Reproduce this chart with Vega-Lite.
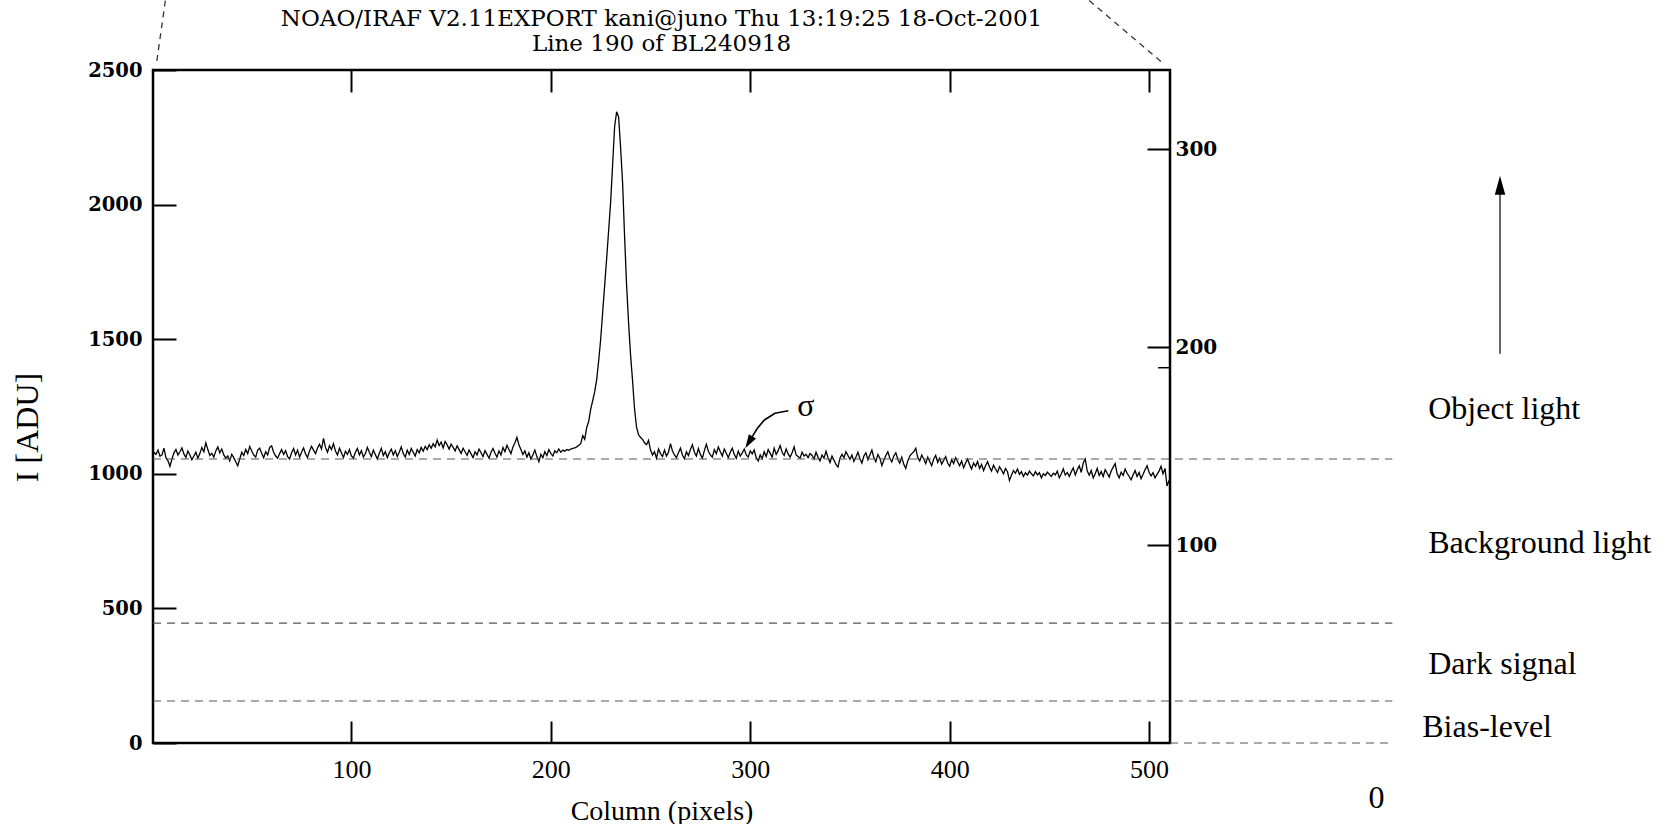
{
  "$schema": "https://vega.github.io/schema/vega-lite/v6.json",
  "width": 1017,
  "height": 673,
  "autosize": {"type": "none"},
  "padding": {"left": 153, "top": 70, "right": 503, "bottom": 81},
  "background": "white",
  "config": {
    "view": {"stroke": "black", "strokeWidth": 2.5},
    "axis": {"grid": false, "domain": false, "tickColor": "black", "tickWidth": 2, "labelColor": "black", "titleColor": "black"}
  },
  "title": {
    "text": ["NOAO/IRAF V2.11EXPORT kani@juno Thu 13:19:25 18-Oct-2001", "Line 190 of BL240918"],
    "font": "DejaVu Serif",
    "fontSize": 23,
    "fontWeight": "normal",
    "lineHeight": 25,
    "anchor": "middle",
    "baseline": "bottom",
    "offset": -79,
    "color": "black"
  },
  "datasets": {
    "profile": [
      {"x":1,"y":1080},{"x":2,"y":1072},{"x":3,"y":1088},{"x":4,"y":1065},{"x":5,"y":1070},{"x":6,"y":1095},{"x":7,"y":1060},{"x":8,"y":1048},{"x":9,"y":1028},{"x":10,"y":1055},
      {"x":11,"y":1078},{"x":12,"y":1090},{"x":13,"y":1070},{"x":14,"y":1082},{"x":15,"y":1096},{"x":16,"y":1074},{"x":17,"y":1060},{"x":18,"y":1085},{"x":19,"y":1070},{"x":20,"y":1052},
      {"x":21,"y":1066},{"x":22,"y":1080},{"x":23,"y":1058},{"x":24,"y":1075},{"x":25,"y":1098},{"x":26,"y":1082},{"x":27,"y":1115},{"x":28,"y":1090},{"x":29,"y":1068},{"x":30,"y":1076},
      {"x":31,"y":1062},{"x":32,"y":1085},{"x":33,"y":1100},{"x":34,"y":1078},{"x":35,"y":1092},{"x":36,"y":1070},{"x":37,"y":1058},{"x":38,"y":1066},{"x":39,"y":1048},{"x":40,"y":1072},
      {"x":41,"y":1060},{"x":42,"y":1045},{"x":43,"y":1030},{"x":44,"y":1055},{"x":45,"y":1080},{"x":46,"y":1068},{"x":47,"y":1090},{"x":48,"y":1075},{"x":49,"y":1102},{"x":50,"y":1085},
      {"x":51,"y":1070},{"x":52,"y":1062},{"x":53,"y":1088},{"x":54,"y":1095},{"x":55,"y":1076},{"x":56,"y":1060},{"x":57,"y":1082},{"x":58,"y":1070},{"x":59,"y":1098},{"x":60,"y":1104},
      {"x":61,"y":1080},{"x":62,"y":1066},{"x":63,"y":1058},{"x":64,"y":1075},{"x":65,"y":1090},{"x":66,"y":1072},{"x":67,"y":1086},{"x":68,"y":1064},{"x":69,"y":1055},{"x":70,"y":1078},
      {"x":71,"y":1094},{"x":72,"y":1070},{"x":73,"y":1088},{"x":74,"y":1062},{"x":75,"y":1080},{"x":76,"y":1096},{"x":77,"y":1074},{"x":78,"y":1060},{"x":79,"y":1085},{"x":80,"y":1102},
      {"x":81,"y":1088},{"x":82,"y":1075},{"x":83,"y":1096},{"x":84,"y":1110},{"x":85,"y":1092},{"x":86,"y":1132},{"x":87,"y":1098},{"x":88,"y":1080},{"x":89,"y":1104},{"x":90,"y":1090},
      {"x":91,"y":1112},{"x":92,"y":1085},{"x":93,"y":1070},{"x":94,"y":1095},{"x":95,"y":1078},{"x":96,"y":1060},{"x":97,"y":1084},{"x":98,"y":1072},{"x":99,"y":1090},{"x":100,"y":1066},
      {"x":101,"y":1058},{"x":102,"y":1080},{"x":103,"y":1094},{"x":104,"y":1070},{"x":105,"y":1086},{"x":106,"y":1062},{"x":107,"y":1075},{"x":108,"y":1098},{"x":109,"y":1080},{"x":110,"y":1064},
      {"x":111,"y":1088},{"x":112,"y":1072},{"x":113,"y":1055},{"x":114,"y":1076},{"x":115,"y":1095},{"x":116,"y":1068},{"x":117,"y":1082},{"x":118,"y":1060},{"x":119,"y":1078},{"x":120,"y":1092},
      {"x":121,"y":1070},{"x":122,"y":1086},{"x":123,"y":1064},{"x":124,"y":1080},{"x":125,"y":1100},{"x":126,"y":1075},{"x":127,"y":1062},{"x":128,"y":1088},{"x":129,"y":1072},{"x":130,"y":1094},
      {"x":131,"y":1080},{"x":132,"y":1066},{"x":133,"y":1090},{"x":134,"y":1078},{"x":135,"y":1098},{"x":136,"y":1084},{"x":137,"y":1102},{"x":138,"y":1090},{"x":139,"y":1108},{"x":140,"y":1095},
      {"x":141,"y":1112},{"x":142,"y":1100},{"x":143,"y":1125},{"x":144,"y":1105},{"x":145,"y":1118},{"x":146,"y":1096},{"x":147,"y":1120},{"x":148,"y":1108},{"x":149,"y":1092},{"x":150,"y":1110},
      {"x":151,"y":1098},{"x":152,"y":1085},{"x":153,"y":1104},{"x":154,"y":1090},{"x":155,"y":1076},{"x":156,"y":1095},{"x":157,"y":1082},{"x":158,"y":1068},{"x":159,"y":1088},{"x":160,"y":1074},
      {"x":161,"y":1060},{"x":162,"y":1082},{"x":163,"y":1070},{"x":164,"y":1092},{"x":165,"y":1078},{"x":166,"y":1064},{"x":167,"y":1086},{"x":168,"y":1072},{"x":169,"y":1058},{"x":170,"y":1080},
      {"x":171,"y":1094},{"x":172,"y":1076},{"x":173,"y":1062},{"x":174,"y":1085},{"x":175,"y":1070},{"x":176,"y":1098},{"x":177,"y":1082},{"x":178,"y":1106},{"x":179,"y":1090},{"x":180,"y":1075},
      {"x":181,"y":1100},{"x":182,"y":1115},{"x":183,"y":1135},{"x":184,"y":1108},{"x":185,"y":1090},{"x":186,"y":1072},{"x":187,"y":1085},{"x":188,"y":1062},{"x":189,"y":1078},{"x":190,"y":1055},
      {"x":191,"y":1070},{"x":192,"y":1088},{"x":193,"y":1064},{"x":194,"y":1045},{"x":195,"y":1072},{"x":196,"y":1060},{"x":197,"y":1082},{"x":198,"y":1068},{"x":199,"y":1090},{"x":200,"y":1076},
      {"x":201,"y":1066},{"x":202,"y":1085},{"x":203,"y":1078},{"x":204,"y":1092},{"x":205,"y":1080},{"x":206,"y":1088},{"x":207,"y":1084},{"x":208,"y":1090},{"x":209,"y":1087},{"x":210,"y":1092},
      {"x":211,"y":1094},{"x":212,"y":1096},{"x":213,"y":1100},{"x":214,"y":1106},{"x":215,"y":1112},{"x":216,"y":1142},{"x":217,"y":1128},{"x":218,"y":1172},{"x":219,"y":1195},{"x":220,"y":1240},
      {"x":221,"y":1272},{"x":222,"y":1305},{"x":223,"y":1350},{"x":224,"y":1420},{"x":225,"y":1500},{"x":226,"y":1600},{"x":227,"y":1700},{"x":228,"y":1800},{"x":229,"y":1905},{"x":230,"y":2010},
      {"x":231,"y":2150},{"x":232,"y":2290},{"x":233,"y":2345},{"x":234,"y":2325},{"x":235,"y":2210},{"x":236,"y":2080},{"x":237,"y":1880},{"x":238,"y":1700},{"x":239,"y":1560},{"x":240,"y":1440},
      {"x":241,"y":1345},{"x":242,"y":1240},{"x":243,"y":1172},{"x":244,"y":1145},{"x":245,"y":1135},{"x":246,"y":1128},{"x":247,"y":1115},{"x":248,"y":1108},{"x":249,"y":1124},{"x":250,"y":1088},
      {"x":251,"y":1070},{"x":252,"y":1082},{"x":253,"y":1058},{"x":254,"y":1092},{"x":255,"y":1075},{"x":256,"y":1064},{"x":257,"y":1088},{"x":258,"y":1066},{"x":259,"y":1080},{"x":260,"y":1112},
      {"x":261,"y":1085},{"x":262,"y":1070},{"x":263,"y":1060},{"x":264,"y":1078},{"x":265,"y":1095},{"x":266,"y":1070},{"x":267,"y":1056},{"x":268,"y":1082},{"x":269,"y":1068},{"x":270,"y":1090},
      {"x":271,"y":1108},{"x":272,"y":1080},{"x":273,"y":1066},{"x":274,"y":1094},{"x":275,"y":1072},{"x":276,"y":1058},{"x":277,"y":1086},{"x":278,"y":1110},{"x":279,"y":1084},{"x":280,"y":1070},
      {"x":281,"y":1062},{"x":282,"y":1090},{"x":283,"y":1075},{"x":284,"y":1100},{"x":285,"y":1082},{"x":286,"y":1066},{"x":287,"y":1092},{"x":288,"y":1076},{"x":289,"y":1060},{"x":290,"y":1080},
      {"x":291,"y":1095},{"x":292,"y":1072},{"x":293,"y":1058},{"x":294,"y":1084},{"x":295,"y":1066},{"x":296,"y":1078},{"x":297,"y":1092},{"x":298,"y":1070},{"x":299,"y":1062},{"x":300,"y":1085},
      {"x":301,"y":1074},{"x":302,"y":1088},{"x":303,"y":1060},{"x":304,"y":1048},{"x":305,"y":1070},{"x":306,"y":1056},{"x":307,"y":1082},{"x":308,"y":1064},{"x":309,"y":1090},{"x":310,"y":1076},
      {"x":311,"y":1062},{"x":312,"y":1095},{"x":313,"y":1072},{"x":314,"y":1086},{"x":315,"y":1105},{"x":316,"y":1080},{"x":317,"y":1068},{"x":318,"y":1092},{"x":319,"y":1074},{"x":320,"y":1062},
      {"x":321,"y":1078},{"x":322,"y":1100},{"x":323,"y":1070},{"x":324,"y":1064},{"x":325,"y":1058},{"x":326,"y":1080},{"x":327,"y":1066},{"x":328,"y":1072},{"x":329,"y":1060},{"x":330,"y":1075},
      {"x":331,"y":1068},{"x":332,"y":1055},{"x":333,"y":1080},{"x":334,"y":1062},{"x":335,"y":1048},{"x":336,"y":1070},{"x":337,"y":1058},{"x":338,"y":1084},{"x":339,"y":1060},{"x":340,"y":1042},
      {"x":341,"y":1066},{"x":342,"y":1050},{"x":343,"y":1035},{"x":344,"y":1025},{"x":345,"y":1058},{"x":346,"y":1072},{"x":347,"y":1060},{"x":348,"y":1082},{"x":349,"y":1068},{"x":350,"y":1054},
      {"x":351,"y":1070},{"x":352,"y":1046},{"x":353,"y":1062},{"x":354,"y":1080},{"x":355,"y":1056},{"x":356,"y":1040},{"x":357,"y":1066},{"x":358,"y":1078},{"x":359,"y":1052},{"x":360,"y":1070},
      {"x":361,"y":1088},{"x":362,"y":1060},{"x":363,"y":1045},{"x":364,"y":1072},{"x":365,"y":1058},{"x":366,"y":1030},{"x":367,"y":1050},{"x":368,"y":1068},{"x":369,"y":1082},{"x":370,"y":1058},
      {"x":371,"y":1044},{"x":372,"y":1066},{"x":373,"y":1078},{"x":374,"y":1054},{"x":375,"y":1040},{"x":376,"y":1062},{"x":377,"y":1035},{"x":378,"y":1020},{"x":379,"y":1048},{"x":380,"y":1066},
      {"x":381,"y":1075},{"x":382,"y":1082},{"x":383,"y":1095},{"x":384,"y":1060},{"x":385,"y":1048},{"x":386,"y":1070},{"x":387,"y":1055},{"x":388,"y":1038},{"x":389,"y":1062},{"x":390,"y":1046},
      {"x":391,"y":1030},{"x":392,"y":1055},{"x":393,"y":1068},{"x":394,"y":1042},{"x":395,"y":1058},{"x":396,"y":1036},{"x":397,"y":1050},{"x":398,"y":1064},{"x":399,"y":1040},{"x":400,"y":1028},
      {"x":401,"y":1052},{"x":402,"y":1038},{"x":403,"y":1060},{"x":404,"y":1045},{"x":405,"y":1030},{"x":406,"y":1048},{"x":407,"y":1022},{"x":408,"y":1040},{"x":409,"y":1055},{"x":410,"y":1034},
      {"x":411,"y":1018},{"x":412,"y":1040},{"x":413,"y":1028},{"x":414,"y":1046},{"x":415,"y":1020},{"x":416,"y":1035},{"x":417,"y":1012},{"x":418,"y":1030},{"x":419,"y":1045},{"x":420,"y":1025},
      {"x":421,"y":1010},{"x":422,"y":1032},{"x":423,"y":1018},{"x":424,"y":1005},{"x":425,"y":1026},{"x":426,"y":1014},{"x":427,"y":1000},{"x":428,"y":1020},{"x":429,"y":1008},{"x":430,"y":975},
      {"x":431,"y":995},{"x":432,"y":1012},{"x":433,"y":1002},{"x":434,"y":1018},{"x":435,"y":998},{"x":436,"y":1008},{"x":437,"y":990},{"x":438,"y":1004},{"x":439,"y":995},{"x":440,"y":1010},
      {"x":441,"y":1000},{"x":442,"y":992},{"x":443,"y":1008},{"x":444,"y":996},{"x":445,"y":1004},{"x":446,"y":985},{"x":447,"y":1000},{"x":448,"y":994},{"x":449,"y":1006},{"x":450,"y":998},
      {"x":451,"y":990},{"x":452,"y":1002},{"x":453,"y":996},{"x":454,"y":1010},{"x":455,"y":985},{"x":456,"y":1000},{"x":457,"y":1018},{"x":458,"y":995},{"x":459,"y":1005},{"x":460,"y":990},
      {"x":461,"y":1008},{"x":462,"y":1022},{"x":463,"y":996},{"x":464,"y":1015},{"x":465,"y":1030},{"x":466,"y":1005},{"x":467,"y":1040},{"x":468,"y":1055},{"x":469,"y":1010},{"x":470,"y":995},
      {"x":471,"y":1012},{"x":472,"y":985},{"x":473,"y":1000},{"x":474,"y":1020},{"x":475,"y":994},{"x":476,"y":1008},{"x":477,"y":990},{"x":478,"y":1015},{"x":479,"y":1002},{"x":480,"y":988},
      {"x":481,"y":1010},{"x":482,"y":1025},{"x":483,"y":1038},{"x":484,"y":1000},{"x":485,"y":985},{"x":486,"y":1006},{"x":487,"y":994},{"x":488,"y":1018},{"x":489,"y":1002},{"x":490,"y":990},
      {"x":491,"y":978},{"x":492,"y":996},{"x":493,"y":1012},{"x":494,"y":990},{"x":495,"y":1005},{"x":496,"y":982},{"x":497,"y":998},{"x":498,"y":1015},{"x":499,"y":1030},{"x":500,"y":1006},
      {"x":501,"y":992},{"x":502,"y":1004},{"x":503,"y":985},{"x":504,"y":998},{"x":505,"y":1010},{"x":506,"y":1028},{"x":507,"y":1000},{"x":508,"y":1020},{"x":509,"y":955},{"x":510,"y":975}
    ],
    "levels": [
      {"x": 0.5, "x2": 622, "y": 1055},
      {"x": 0.5, "x2": 622, "y": 445},
      {"x": 0.5, "x2": 622, "y": 156},
      {"x": 510.5, "x2": 622, "y": 0}
    ],
    "diagonals": [
      {"x": 6.7, "y": 2758, "x2": 2.2, "y2": 2522},
      {"x": 470, "y": 2758, "x2": 507.5, "y2": 2522}
    ],
    "labels": [
      {"x": 640, "y": 1241, "label": "Object light"},
      {"x": 640, "y": 742, "label": "Background light"},
      {"x": 640, "y": 294, "label": "Dark signal"},
      {"x": 637, "y": 58, "label": "Bias-level"},
      {"x": 610, "y": -204, "label": "0"},
      {"x": 323.6, "y": 1252, "label": "σ"}
    ],
    "sigmacurve": [
      {"x": 319.1, "y": 1234, "o": 1},
      {"x": 312.4, "y": 1225, "o": 2},
      {"x": 307.1, "y": 1200, "o": 3},
      {"x": 303.6, "y": 1169, "o": 4},
      {"x": 301.0, "y": 1138, "o": 5}
    ],
    "sigmahead": [{"x": 299.3, "y": 1117}],
    "bigarrow": [{"x": 676, "y": 1446, "y2": 2060}],
    "bighead": [{"x": 676, "y": 2072}],
    "rtick": [{"x": 504.5, "x2": 510.5, "r": 189.6}]
  },
  "layer": [
    {
      "layer": [
        {
          "data": {"name": "profile"},
          "mark": {"type": "line", "color": "black", "strokeWidth": 1.3},
          "encoding": {
            "x": {
              "field": "x", "type": "quantitative",
              "scale": {"domain": [0.5, 510.5], "nice": false, "zero": false},
              "axis": {
                "orient": "bottom", "values": [100, 200, 300, 400, 500], "format": "d",
                "tickSize": -22, "labelFont": "Liberation Serif", "labelFontSize": 26,
                "labelPadding": 35, "labelFlush": false,
                "title": "Column (pixels)", "titleFont": "Liberation Serif", "titleFontSize": 28,
                "titleFontWeight": "normal", "titleY": 68, "titleBaseline": "middle"
              }
            },
            "y": {
              "field": "y", "type": "quantitative",
              "scale": {"domain": [0, 2500], "nice": false, "zero": false},
              "axis": {
                "orient": "left", "values": [0, 500, 1000, 1500, 2000, 2500], "format": "d",
                "tickSize": -23, "labelFont": "DejaVu Serif", "labelFontWeight": "bold", "labelFontSize": 19.5,
                "labelPadding": 34,
                "title": "I [ADU]", "titleFont": "Liberation Serif", "titleFontSize": 32,
                "titleFontWeight": "normal", "titleAngle": 270, "titleX": -126, "titleY": 357,
                "titleBaseline": "middle", "titleAlign": "center"
              }
            }
          }
        },
        {
          "data": {"name": "levels"},
          "mark": {"type": "rule", "color": "#555555", "strokeWidth": 1.2, "strokeDash": [8, 6]},
          "encoding": {
            "x": {"field": "x", "type": "quantitative"},
            "x2": {"field": "x2"},
            "y": {"field": "y", "type": "quantitative"}
          }
        },
        {
          "data": {"name": "diagonals"},
          "mark": {"type": "rule", "color": "#333333", "strokeWidth": 1.3, "strokeDash": [6, 5]},
          "encoding": {
            "x": {"field": "x", "type": "quantitative"},
            "x2": {"field": "x2"},
            "y": {"field": "y", "type": "quantitative"},
            "y2": {"field": "y2"}
          }
        },
        {
          "data": {"name": "labels"},
          "mark": {"type": "text", "font": "Liberation Serif", "fontSize": 32, "align": "left", "baseline": "middle", "color": "black"},
          "encoding": {
            "x": {"field": "x", "type": "quantitative"},
            "y": {"field": "y", "type": "quantitative"},
            "text": {"field": "label"}
          }
        },
        {
          "data": {"name": "sigmacurve"},
          "mark": {"type": "line", "color": "black", "strokeWidth": 1.6},
          "encoding": {
            "x": {"field": "x", "type": "quantitative"},
            "y": {"field": "y", "type": "quantitative"},
            "order": {"field": "o"}
          }
        },
        {
          "data": {"name": "sigmahead"},
          "mark": {"type": "point", "shape": "M0,-1L0.6,1L-0.6,1Z", "size": 196, "angle": 211, "filled": true, "color": "black", "opacity": 1},
          "encoding": {
            "x": {"field": "x", "type": "quantitative"},
            "y": {"field": "y", "type": "quantitative"}
          }
        },
        {
          "data": {"name": "bigarrow"},
          "mark": {"type": "rule", "color": "#333333", "strokeWidth": 1.5},
          "encoding": {
            "x": {"field": "x", "type": "quantitative"},
            "y": {"field": "y", "type": "quantitative"},
            "y2": {"field": "y2"}
          }
        },
        {
          "data": {"name": "bighead"},
          "mark": {"type": "point", "shape": "M0,-1L0.55,1L-0.55,1Z", "size": 361, "filled": true, "color": "black", "opacity": 1},
          "encoding": {
            "x": {"field": "x", "type": "quantitative"},
            "y": {"field": "y", "type": "quantitative"}
          }
        }
      ]
    },
    {
      "data": {"name": "rtick"},
      "mark": {"type": "rule", "color": "black", "strokeWidth": 1.5},
      "encoding": {
        "x": {
          "field": "x", "type": "quantitative",
          "scale": {"domain": [0.5, 510.5], "nice": false, "zero": false},
          "axis": {"orient": "top", "values": [100, 200, 300, 400, 500], "tickSize": -22, "labels": false, "title": null}
        },
        "x2": {"field": "x2"},
        "y": {
          "field": "r", "type": "quantitative",
          "scale": {"domain": [0, 340], "nice": false, "zero": false},
          "axis": {
            "orient": "right", "values": [100, 200, 300], "format": "d", "tickSize": -23,
            "labelFont": "DejaVu Serif", "labelFontWeight": "bold", "labelFontSize": 20,
            "labelPadding": 28, "title": null
          }
        }
      }
    }
  ],
  "resolve": {
    "scale": {"x": "independent", "y": "independent"},
    "axis": {"x": "independent", "y": "independent"}
  }
}
